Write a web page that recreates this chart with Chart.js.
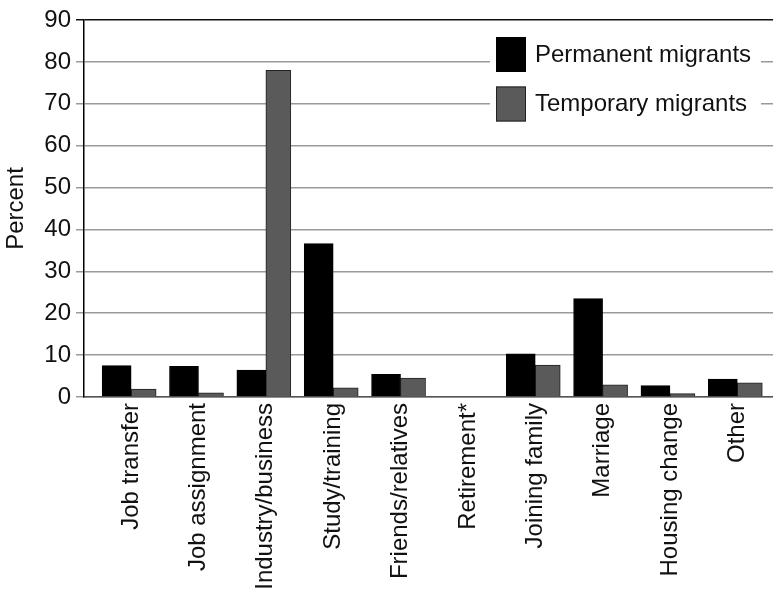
<!DOCTYPE html>
<html>
<head>
<meta charset="utf-8">
<title>Reasons for migration</title>
<script src="https://cdn.jsdelivr.net/npm/chart.js@4.4.1/dist/chart.umd.min.js"></script>
<style>
    html, body { margin: 0; padding: 0; background: #fff; }
    #wrap { width: 773px; height: 591px; position: relative; }
</style>
</head>
<body>
<div id="wrap"><canvas id="migrationChart"></canvas></div>
<script>
// Reasons for migration, permanent vs temporary migrants (percent)
const categories = ['Job transfer', 'Job assignment', 'Industry/business', 'Study/training',
    'Friends/relatives', 'Retirement*', 'Joining family', 'Marriage', 'Housing change', 'Other'];
const permanentValues = [7.5, 7.3, 6.4, 36.6, 5.4, 0, 10.3, 23.5, 2.7, 4.3];
const temporaryValues = [1.9, 1.0, 78.0, 2.2, 4.5, 0, 7.6, 2.9, 0.8, 3.4];
const yTicks = [0, 10, 20, 30, 40, 50, 60, 70, 80, 90];

const FONT = '"Liberation Sans", Arial, Helvetica, sans-serif';
const FONT_SIZE = 24;

document.addEventListener('DOMContentLoaded', function() {
    initializeChart();
});

// Legend drawn inside the plot, on a white box over the grid lines
const legendBox = {
    id: 'legendBox',
    afterDatasetsDraw(chart) {
        const ctx = chart.ctx;
        const area = chart.chartArea;
        const x0 = area.right - 283;
        const y0 = area.top + 5;

        ctx.save();
        ctx.fillStyle = '#fff';
        ctx.fillRect(x0, y0, 271, 105);
        ctx.font = FONT_SIZE + 'px ' + FONT;
        ctx.textBaseline = 'middle';
        chart.data.datasets.forEach((ds, i) => {
            const y = area.top + 17 + i * 49.5;
            ctx.fillStyle = ds.backgroundColor;
            ctx.fillRect(x0 + 6, y, 30, 35);
            ctx.strokeStyle = ds.borderColor;
            ctx.lineWidth = 1;
            ctx.strokeRect(x0 + 6.5, y + 0.5, 29, 34);
            ctx.fillStyle = '#111';
            ctx.fillText(ds.label, x0 + 45, y + 18);
        });
        ctx.restore();
    }
};

function initializeChart() {
    const ctx = document.getElementById('migrationChart').getContext('2d');
    Chart.defaults.font.family = FONT;
    Chart.defaults.font.size = FONT_SIZE;
    Chart.defaults.color = '#111';

    window.migrationChart = new Chart(ctx, {
        type: 'bar',
        data: {
            datasets: [{
                label: 'Permanent migrants',
                data: permanentValues.map((v, i) => ({ x: i, y: v })),
                backgroundColor: '#000',
                borderColor: '#000',
                borderWidth: 1,
                barThickness: 29
            }, {
                label: 'Temporary migrants',
                data: temporaryValues.map((v, i) => ({ x: i, y: v })),
                backgroundColor: '#5a5a5a',
                borderColor: '#222',
                borderWidth: 1,
                barThickness: 25
            }]
        },
        options: {
            responsive: true,
            maintainAspectRatio: false,
            animation: false,
            layout: { padding: { top: 20, right: 0, left: 0, bottom: 0 } },
            plugins: {
                legend: { display: false },
                tooltip: { enabled: false }
            },
            scales: {
                x: {
                    type: 'linear',
                    min: -0.7,
                    max: 9.53,
                    offset: false,
                    grid: { display: false, drawTicks: false, offset: false },
                    border: { display: true, color: '#555', width: 1.5 },
                    afterBuildTicks: scale => {
                        scale.ticks = categories.map((c, i) => ({ value: i }));
                    },
                    afterFit: scale => { scale.height = 194; },
                    ticks: {
                        autoSkip: false,
                        minRotation: 90,
                        maxRotation: 90,
                        padding: 6,
                        callback: value => categories[value]
                    }
                },
                y: {
                    min: 0,
                    max: 90,
                    afterBuildTicks: scale => {
                        scale.ticks = yTicks.map(v => ({ value: v }));
                    },
                    afterFit: scale => { scale.width = 84; },
                    grid: {
                        color: c => (c.tick && c.tick.value === 90 ? '#111' : '#9a9a9a'),
                        lineWidth: 1.5,
                        tickLength: 8
                    },
                    border: { display: true, color: '#000', width: 1.5 },
                    ticks: { padding: 5 },
                    title: {
                        display: true,
                        text: 'Percent',
                        font: { size: FONT_SIZE, lineHeight: 1.2 },
                        padding: { top: 2, bottom: 0 }
                    }
                }
            }
        },
        plugins: [legendBox]
    });
}
</script>
</body>
</html>
